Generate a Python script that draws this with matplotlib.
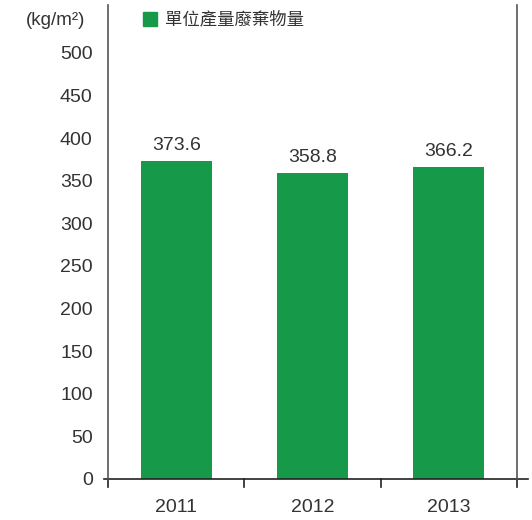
import matplotlib
matplotlib.use("Agg")
import matplotlib.pyplot as plt
from matplotlib.patches import Rectangle

plt.rcParams["font.family"] = ["Liberation Sans", "Noto Sans CJK TC", "DejaVu Sans"]

years = ["2011", "2012", "2013"]
waste = [373.6, 358.8, 366.2]
yticks = [0, 50, 100, 150, 200, 250, 300, 350, 400, 450, 500]
series_name = "單位產量廢棄物量"
unit = "(kg/m²)"

C_BAR = "#169a4a"
C_TEXT = "#333333"
C_AXIS = "#555555"

fig = plt.figure(figsize=(5.32, 5.2), dpi=100)
ax = fig.add_axes([0.203, 0.079, 0.769, 0.911])

x = range(len(years))
ax.bar(x, waste, width=0.52, color=C_BAR, zorder=2)
for xi, v in zip(x, waste):
    ax.text(xi, v + 8, f"{v:.1f}", ha="center", va="bottom",
            fontsize=14, color=C_TEXT)

ax.set_xlim(-0.5, len(years) - 0.5)
ax.set_ylim(0, 556)
ax.set_yticks(yticks)
ax.set_yticklabels([str(t) for t in yticks], fontsize=14, color=C_TEXT)
ax.tick_params(axis="y", length=0, pad=11)

ax.set_xticks([])
for i, yr in enumerate(years):
    ax.text(i, -0.043, yr, transform=ax.get_xaxis_transform(),
            ha="center", va="top", fontsize=14, color=C_TEXT)
# tick marks between categories, pointing down
for b in [-0.5 + i for i in range(len(years) + 1)]:
    ax.plot([b, b], [0, -0.017], transform=ax.get_xaxis_transform(),
            color="#222222", lw=1.2, clip_on=False)
ax.plot([-0.53, len(years) - 0.42], [0, 0], transform=ax.get_xaxis_transform(),
        color="#222222", lw=1.2, clip_on=False)

ax.spines["top"].set_visible(False)
ax.spines["bottom"].set_visible(False)
for side in ("left", "right"):
    ax.spines[side].set_color(C_AXIS)
    ax.spines[side].set_linewidth(1.2)

fig.text(0.105, 0.961, unit, ha="center", va="center", fontsize=13.5, color=C_TEXT)
fig.patches.append(Rectangle((0.269, 0.95), 0.026, 0.027, transform=fig.transFigure,
                             color=C_BAR))
fig.text(0.31, 0.963, series_name, ha="left", va="center", fontsize=12.5,
         color=C_TEXT, family=["Noto Sans CJK TC", "DejaVu Sans"])

fig.savefig("out.png", dpi=100)
